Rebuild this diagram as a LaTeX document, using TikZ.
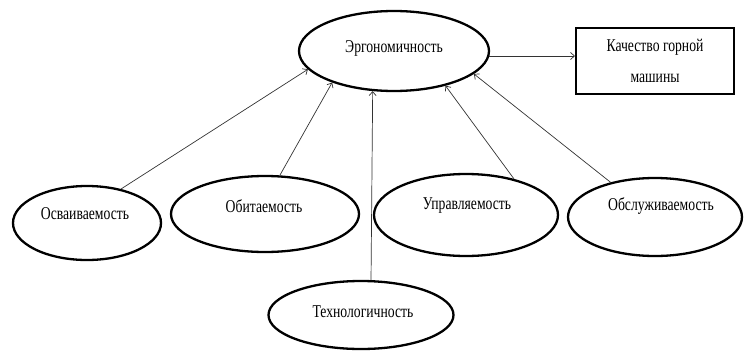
\documentclass[tikz,border=0pt]{standalone}
\usepackage{fontspec}
\setmainfont{Liberation Serif}[FakeStretch=0.76]
\usetikzlibrary{shapes.geometric,arrows.meta}
\begin{document}
\begin{tikzpicture}[x=1pt,y=-1pt,
  oval/.style={draw, ellipse, line width=2.3pt, inner sep=0pt},
  lbl/.style={font=\fontsize{18}{20}\selectfont, inner sep=0pt},
  conn/.style={-{Straight Barb[length=4pt,width=7pt]}, line width=0.7pt, draw=black!80},
]
\useasboundingbox (0,0) rectangle (744,359);
% ellipses
\node[oval, minimum width=190pt, minimum height=80pt] (erg) at (394,51) {};
\node[oval, minimum width=148pt, minimum height=74pt] (osv) at (87,223) {};
\node[oval, minimum width=188pt, minimum height=76pt] (obi) at (265,214) {};
\node[oval, minimum width=185pt, minimum height=68pt] (tech) at (361,315) {};
\node[oval, minimum width=184pt, minimum height=82pt] (upr) at (466,215) {};
\node[oval, minimum width=174pt, minimum height=78pt] (obsl) at (655,217) {};
% box
\node[draw, line width=2pt, minimum width=158pt, minimum height=66pt, align=center,
      font=\fontsize{18}{31}\selectfont, inner sep=0pt] (box) at (655,61)
      {Качество горной\\машины};
% labels
\node[lbl] (ergT) at (394,48) {Эргономичность};
\node[lbl] (osvT) at (85,214) {Осваиваемость};
\node[lbl] (obiT) at (264,206) {Обитаемость};
\node[lbl] (uprT) at (467,206) {Управляемость};
\node[lbl] (obslT) at (661,206) {Обслуживаемость};
\node[lbl] (techT) at (363,312) {Технологичность};
% connectors
\draw[conn] (erg.357) -- (erg.357 -| box.west);
\draw[conn] (osv.45) -- (erg.192);
\draw[conn] (obi.69) -- (erg.207);
\draw[conn] (tech.74) -- (erg.242);
\draw[conn] (upr.37) -- (erg.326);
\draw[conn] (obsl.142) -- (erg.344);
\end{tikzpicture}
\end{document}
